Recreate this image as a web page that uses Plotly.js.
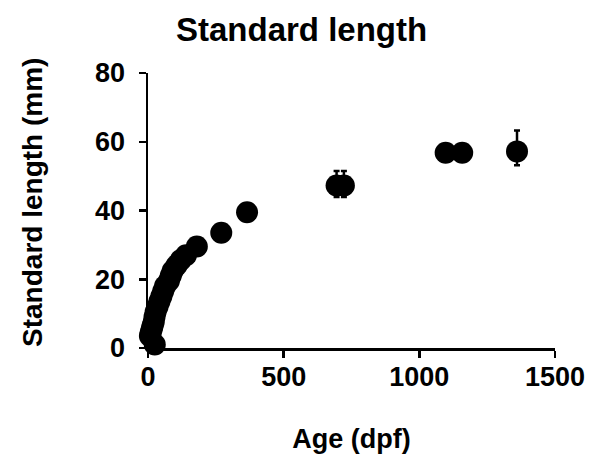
<!DOCTYPE html>
<html>
<head>
<meta charset="utf-8">
<script src="https://cdn.plot.ly/plotly-3.0.1.min.js"></script>
<style>html,body{margin:0;padding:0;background:#fff;}#chart{width:596px;height:456px;}</style>
</head>
<body>
<div id="chart"></div>
<script>
const ageDpf = [25, 7, 10, 14, 17, 21, 24, 28, 35, 42, 49, 56, 63, 77, 84, 91, 105, 120, 140, 180, 270, 365, 695, 722, 1097, 1158, 1360];
const standardLengthMm = [1, 3.5, 4.5, 5.5, 6.5, 7.5, 9, 10.5, 12, 13.5, 15, 16.5, 18, 19.5, 21, 22.5, 24, 25.5, 27, 29.5, 33.5, 39.5, 47.3, 47.3, 56.8, 56.8, 57.2];
const errPlus = [0, 0, 0, 0, 0, 0, 0, 0, 0, 0, 0, 0, 0, 0, 0, 0, 0, 0, 0, 0, 0, 0, 4.2, 4.2, 0, 0, 6.1];
const errMinus = [0, 0, 0, 0, 0, 0, 0, 0, 0, 0, 0, 0, 0, 0, 0, 0, 0, 0, 0, 0, 0, 0, 3.4, 3.4, 0, 0, 4];
const xTicks = [0, 500, 1000, 1500];
const yTicks = [0, 20, 40, 60, 80];

const font = 'Liberation Sans, Arial, sans-serif';
const trace = {
  x: ageDpf, y: standardLengthMm, type: 'scatter', mode: 'markers',
  cliponaxis: false,
  marker: {color: '#000', size: 22},
  error_y: {type: 'data', symmetric: false, array: errPlus, arrayminus: errMinus, color: '#000', thickness: 2.5, width: 3}
};
const layout = {
  width: 596, height: 456,
  margin: {l: 148, r: 41, t: 73, b: 108},
  paper_bgcolor: '#fff', plot_bgcolor: '#fff',
  showlegend: false,
  font: {family: font, color: '#000'},
  title: {text: '<b>Standard length</b>', font: {size: 33, family: font, color: '#000'}, x: 0.506, xanchor: 'center', y: 0.935, yanchor: 'middle'},
  xaxis: {
    range: [0, 1500], tickvals: xTicks, ticktext: xTicks.map(v => '<b>' + v + '</b>'),
    showgrid: false, zeroline: false, showline: true, linecolor: '#000', linewidth: 2.5,
    ticks: 'outside', ticklen: 7, tickwidth: 2.5, tickcolor: '#000',
    ticklabelstandoff: -4,
    tickfont: {size: 27, family: font, color: '#000'},
    title: {text: '<b>Age (dpf)</b>', font: {size: 27, family: font, color: '#000'}, standoff: 38}
  },
  yaxis: {
    range: [0, 80], tickvals: yTicks, ticktext: yTicks.map(v => '<b>' + v + '</b>'),
    showgrid: false, zeroline: false, showline: true, linecolor: '#000', linewidth: 2.5,
    ticks: 'outside', ticklen: 7, tickwidth: 2.5, tickcolor: '#000',
    ticklabelstandoff: 8,
    tickfont: {size: 27, family: font, color: '#000'}
  },
  annotations: [{
    text: '<b>Standard length (mm)</b>', textangle: -90, showarrow: false,
    xref: 'paper', yref: 'paper', x: -0.2826, y: 0.531, xanchor: 'center', yanchor: 'middle',
    font: {size: 28, family: font, color: '#000'}
  }]
};
Plotly.newPlot('chart', [trace], layout, {displayModeBar: false, staticPlot: true});
</script>
</body>
</html>
